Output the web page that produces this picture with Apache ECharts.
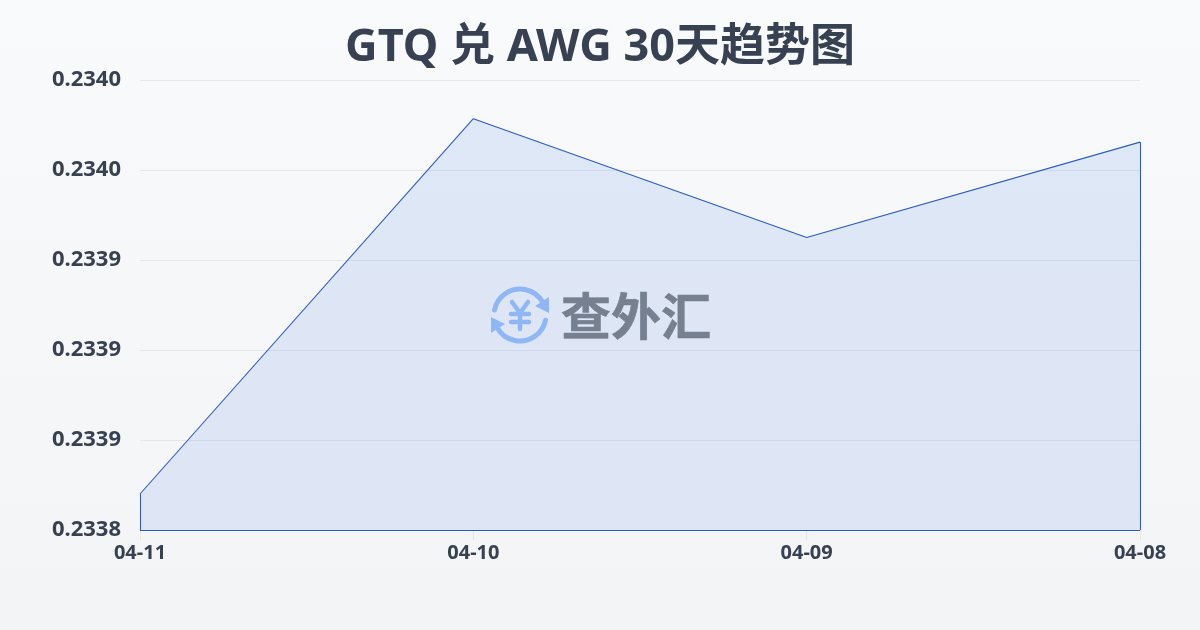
<!DOCTYPE html>
<html><head><meta charset="utf-8">
<style>html,body{margin:0;padding:0;background:#f5f6f8}#c{width:1200px;height:630px}</style>
<script src="https://cdn.jsdelivr.net/npm/echarts@6/dist/echarts.min.js"></script>
</head><body><div id="c"></div>
<script>
const titleText = 'GTQ 兑 AWG 30天趋势图';
const categories = ['04-11','04-10','04-09','04-08'];
const rates = [0.23382,0.2340285,0.2339625,0.2340155];
const tickLabels = ['0.2338','0.2339','0.2339','0.2339','0.2340','0.2340'];
const yMin = 0.2338, yMax = 0.23405, yStep = 0.00005;
const FONT = '"Noto Sans","Noto Sans CJK SC",sans-serif';
const BLUE = '#2a5cc4', ICON = '#8fb6f5';
const chart = echarts.init(document.getElementById('c'), null, {renderer:'canvas'});
const last = categories.length-1;
const iconLine = (pts)=>({type:'polyline',silent:true,z:50,shape:{points:pts},style:{stroke:ICON,lineWidth:4.5,fill:null,lineCap:'round',lineJoin:'round'}});
chart.setOption({
  animation:false,
  backgroundColor:new echarts.graphic.LinearGradient(0,0,0,1,[{offset:0,color:'#f9fafb'},{offset:1,color:'#f3f4f6'}]),
  title:{text:titleText,left:'center',top:21,textStyle:{fontFamily:FONT,fontWeight:'bold',fontSize:45,color:'#374151'}},
  grid:{left:140,right:60,top:80,bottom:100},
  xAxis:{type:'category',boundaryGap:false,data:categories,
    axisLine:{show:false},
    axisTick:{show:true,length:10,lineStyle:{color:'#e9e7dc'}},
    axisLabel:{fontFamily:FONT,fontWeight:'bold',fontSize:20,color:'#374151',margin:13,hideOverlap:false,interval:0}},
  yAxis:{type:'value',min:yMin,max:yMax,interval:yStep,
    axisLine:{show:false},axisTick:{show:false},
    splitLine:{lineStyle:{color:'#e5e7eb',width:1}},
    axisLabel:{fontFamily:FONT,fontWeight:'bold',fontSize:22,color:'#374151',margin:19,
      formatter:v=>tickLabels[Math.round((v-yMin)/yStep)]}},
  series:[{type:'line',data:rates,symbol:'none',smooth:false,
    lineStyle:{color:BLUE,width:1.1},
    areaStyle:{origin:'start',color:new echarts.graphic.LinearGradient(0,0,0,1,[{offset:0,color:'rgba(30,105,225,0.17)'},{offset:1,color:'rgba(30,85,210,0.15)'}])},
    markLine:{silent:true,symbol:'none',label:{show:false},lineStyle:{color:BLUE,width:1.1,type:'solid'},
      data:[
        [{xAxis:categories[0],yAxis:yMin},{xAxis:categories[0],yAxis:rates[0]}],
        [{xAxis:categories[0],yAxis:yMin},{xAxis:categories[last],yAxis:yMin}],
        [{xAxis:categories[last],yAxis:yMin},{xAxis:categories[last],yAxis:rates[last]}]
      ]}
  }],
  graphic:[
    {type:'arc',silent:true,z:50,shape:{cx:520,cy:315,r:26,startAngle:-2.95,endAngle:-0.45},style:{stroke:ICON,lineWidth:5,fill:null,lineCap:'round'}},
    {type:'arc',silent:true,z:50,shape:{cx:520,cy:315,r:26,startAngle:0.2,endAngle:2.7},style:{stroke:ICON,lineWidth:5,fill:null,lineCap:'round'}},
    {type:'polygon',silent:true,z:50,shape:{points:[[549,297],[549,313],[535,306]]},style:{fill:ICON}},
    {type:'polygon',silent:true,z:50,shape:{points:[[491,317],[491,333],[505,324]]},style:{fill:ICON}},
    iconLine([[512,302],[520,313],[528,302]]),
    iconLine([[520,313],[520,329]]),
    iconLine([[511,314],[529,314]]),
    iconLine([[511,322],[529,322]]),
    {type:'text',silent:true,z:50,style:{x:636,y:316,text:'查外汇',align:'center',verticalAlign:'middle',font:'bold 50px "Noto Sans CJK SC"',fill:'#778091',stroke:'#778091',lineWidth:0.6}}
  ]
});
</script></body></html>
